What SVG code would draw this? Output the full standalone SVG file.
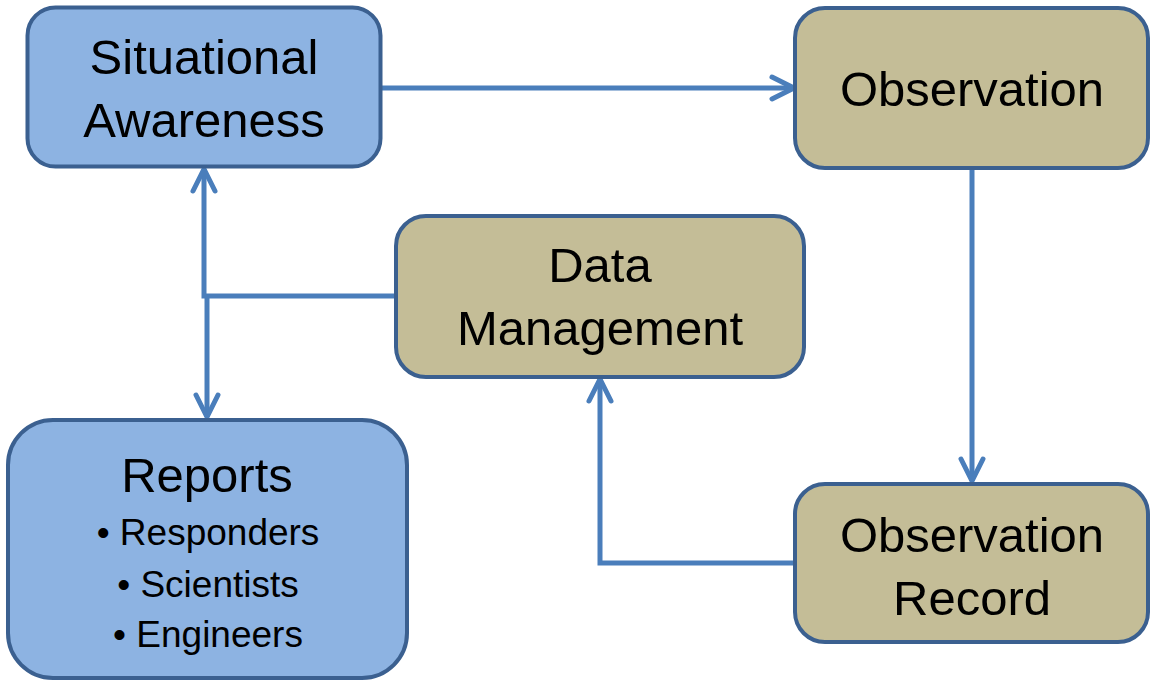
<svg xmlns="http://www.w3.org/2000/svg" width="1159" height="683" viewBox="0 0 1159 683">
<style>
.box{stroke:#3B6090;stroke-width:4}
.blue{fill:#8DB3E2}
.tan{fill:#C4BD97}
.t{font-family:"Liberation Sans",Arial,sans-serif;font-size:49px;fill:#000;text-anchor:middle}
.s{font-family:"Liberation Sans",Arial,sans-serif;font-size:37px;fill:#000;text-anchor:middle}
.c{fill:none;stroke:#4A7EBB;stroke-width:5}
</style>
<defs>
<marker id="arr" markerUnits="userSpaceOnUse" markerWidth="40" markerHeight="40" viewBox="-30 -20 40 40" refX="0" refY="0" orient="auto">
<path d="M-22,-11 L0,0 L-22,11" fill="none" stroke="#4A7EBB" stroke-width="5" stroke-linecap="round" stroke-linejoin="round"/>
</marker>
</defs>
<g id="connectors">
<path class="c" d="M381,88 H794" marker-end="url(#arr)"/>
<path class="c" d="M972,168 V481" marker-end="url(#arr)"/>
<path class="c" d="M795,563 H600 V379" marker-end="url(#arr)"/>
<path class="c" d="M395,296 H204 V169" marker-end="url(#arr)"/>
<path class="c" d="M207,296 V417" marker-end="url(#arr)"/>
</g>
<g id="situational-awareness">
<rect class="box blue" x="27.5" y="7.5" width="353" height="159" rx="28"/>
<text class="t" x="204" y="74">Situational</text>
<text class="t" x="204" y="137">Awareness</text>
</g>
<g id="observation">
<rect class="box tan" x="795" y="8" width="353" height="160" rx="30"/>
<text class="t" x="972" y="106">Observation</text>
</g>
<g id="data-management">
<rect class="box tan" x="396" y="216" width="408" height="161" rx="30"/>
<text class="t" x="600" y="282">Data</text>
<text class="t" x="600" y="345">Management</text>
</g>
<g id="observation-record">
<rect class="box tan" x="795" y="484" width="353" height="158" rx="30"/>
<text class="t" x="972" y="552">Observation</text>
<text class="t" x="972" y="615">Record</text>
</g>
<g id="reports">
<rect class="box blue" x="8" y="420" width="399" height="258" rx="45"/>
<text class="t" x="207" y="492">Reports</text>
<text class="s" x="208" y="545">• Responders</text>
<text class="s" x="208" y="597">• Scientists</text>
<text class="s" x="208" y="647">• Engineers</text>
</g>
</svg>
